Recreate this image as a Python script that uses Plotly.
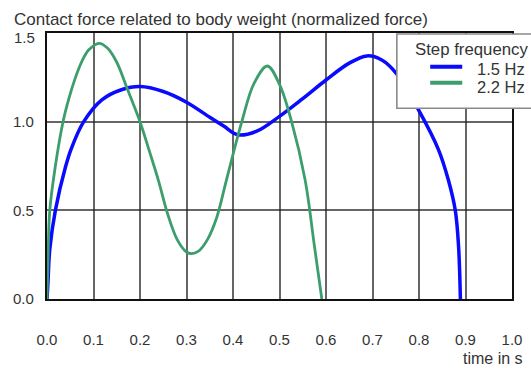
import plotly.graph_objects as go

# Normalized contact force (force / body weight) over one ground contact
t_15hz = [0.0, 0.002, 0.006, 0.018, 0.04, 0.0525, 0.079, 0.118, 0.16, 0.2, 0.25, 0.3,
          0.35, 0.38, 0.41, 0.45, 0.5, 0.55, 0.6, 0.65, 0.688, 0.72, 0.752, 0.799,
          0.842, 0.863, 0.878, 0.885, 0.889]
f_15hz = [0.0, 0.09, 0.28, 0.5, 0.747, 0.85, 1.0, 1.123, 1.18, 1.198, 1.17, 1.11,
          1.025, 0.975, 0.926, 0.945, 1.03, 1.13, 1.235, 1.33, 1.371, 1.348, 1.27, 1.066,
          0.841, 0.672, 0.5, 0.3, 0.0]

t_22hz = [0.0, 0.002, 0.006, 0.018, 0.0345, 0.047, 0.06, 0.075, 0.09, 0.112, 0.13, 0.15,
          0.172, 0.2, 0.22, 0.24, 0.26, 0.28, 0.3, 0.311, 0.325, 0.345, 0.365, 0.386,
          0.419, 0.445, 0.474, 0.5, 0.526, 0.555, 0.575, 0.591]
f_22hz = [0.0, 0.2, 0.5, 0.75, 1.0, 1.13, 1.24, 1.34, 1.405, 1.442, 1.415, 1.335,
          1.19, 1.0, 0.835, 0.665, 0.475, 0.335, 0.265, 0.256, 0.268, 0.335, 0.46, 0.672,
          1.0, 1.215, 1.314, 1.21, 1.0, 0.672, 0.3, 0.0]

x_ticks = [0.0, 0.1, 0.2, 0.3, 0.4, 0.5, 0.6, 0.7, 0.8, 0.9, 1.0]
y_ticks = [0.0, 0.5, 1.0, 1.5]

series_names = ["1.5 Hz", "2.2 Hz"]
series_colors = ["#0a0aff", "#3c9e6c"]
series_widths = [3.5, 2.8]

FONT = "Liberation Sans, Arial, sans-serif"
TEXT_COLOR = "#333333"
TICK_SIZE = 15

fig = go.Figure()
for t, f, name, color, width in zip([t_15hz, t_22hz], [f_15hz, f_22hz],
                                    series_names, series_colors, series_widths):
    fig.add_trace(go.Scatter(
        x=t, y=f, mode="lines", name=name,
        line=dict(color=color, width=width, shape="spline", smoothing=1.0),
        showlegend=False,
    ))

axis_common = dict(
    showline=True, linecolor="#111111", linewidth=2.2, mirror=True,
    showgrid=True, gridcolor="rgba(30,30,30,0.68)", gridwidth=1.6,
    zeroline=False, ticks="outside", tickcolor="rgba(0,0,0,0)",
    tickfont=dict(family=FONT, size=TICK_SIZE, color=TEXT_COLOR),
    layer="below traces", fixedrange=True,
)

fig.update_xaxes(range=[0, 1.0], tickvals=x_ticks,
                 ticktext=[f"{v:.1f}" for v in x_ticks], ticklen=26, **axis_common)
# the top label sits just under the frame line, so it is placed as its own text below
fig.update_yaxes(range=[0, 1.5], tickvals=y_ticks,
                 ticktext=[f"{v:.1f}" for v in y_ticks[:-1]] + [""], ticklen=8, **axis_common)

# Plot-area geometry in pixels, used to place the text and legend box
L, R, T, B = 47.3, 19.3, 33.0, 68.6
W, H = 531, 368
pw, ph = W - L - R, H - T - B


def px_x(px):
    return (px - L) / pw


def px_y(py):
    return (H - B - py) / ph


annotations = [
    dict(text="Contact force related to body weight (normalized force)",
         x=px_x(12), y=px_y(19.5), xanchor="left", yanchor="middle",
         font=dict(family=FONT, size=17, color=TEXT_COLOR)),
    dict(text=f"{y_ticks[-1]:.1f}", x=px_x(37), y=px_y(37.5), xanchor="right", yanchor="middle",
         font=dict(family=FONT, size=TICK_SIZE, color=TEXT_COLOR)),
    dict(text="time in s", x=px_x(525), y=px_y(359), xanchor="right", yanchor="middle",
         font=dict(family=FONT, size=16, color=TEXT_COLOR)),
    dict(text="Step frequency", x=px_x(413), y=px_y(49.5), xanchor="left", yanchor="middle",
         font=dict(family=FONT, size=16.8, color=TEXT_COLOR)),
]

shapes = [
    dict(type="rect", xref="paper", yref="paper",
         x0=px_x(396.7), x1=px_x(548), y0=px_y(108.3), y1=px_y(34),
         fillcolor="white", line=dict(color="#8a8a8a", width=1.6), layer="above"),
]

legend_rows = [(66.7, 69.3), (82.7, 87.3)]
for (line_y, text_y), name, color in zip(legend_rows, series_names, series_colors):
    shapes.append(dict(type="line", xref="paper", yref="paper",
                       x0=px_x(430), x1=px_x(462), y0=px_y(line_y), y1=px_y(line_y),
                       line=dict(color=color, width=4), layer="above"))
    annotations.append(dict(text=name, x=px_x(526.5), y=px_y(text_y),
                            xanchor="right", yanchor="middle",
                            font=dict(family=FONT, size=16.5, color=TEXT_COLOR)))

for a in annotations:
    a.update(xref="paper", yref="paper", showarrow=False)

fig.update_layout(
    width=W, height=H,
    margin=dict(l=L, r=R, t=T, b=B, pad=0, autoexpand=False),
    paper_bgcolor="white", plot_bgcolor="white",
    showlegend=False,
    annotations=annotations, shapes=shapes,
)

fig.write_html("out.html", config={"displayModeBar": False})
